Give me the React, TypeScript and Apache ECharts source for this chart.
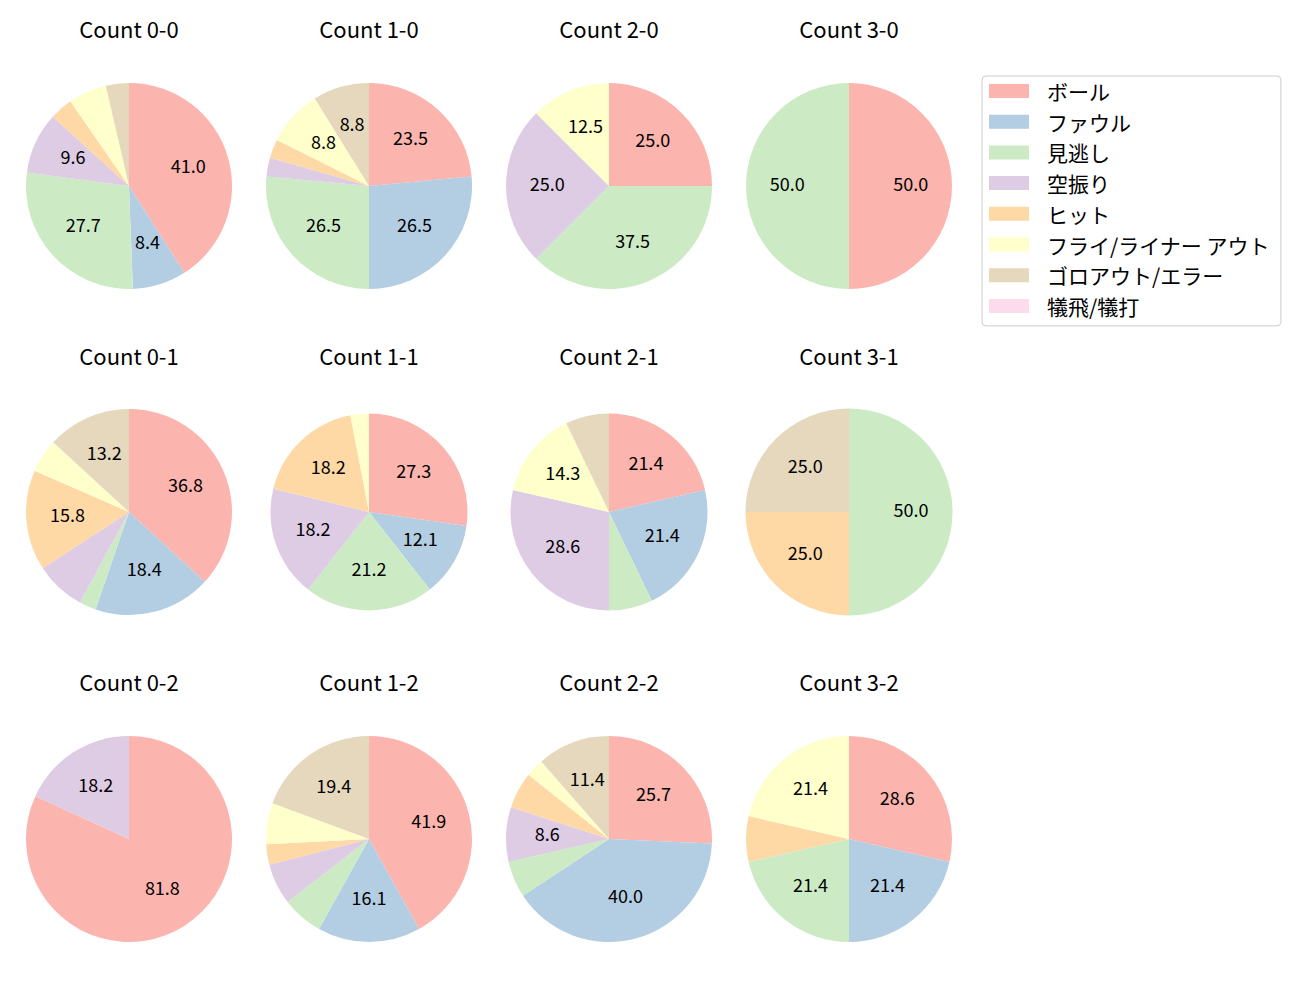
import React, { useEffect, useRef } from "react";
import * as echarts from "echarts";

const categories = [
  "ボール",
  "ファウル",
  "見逃し",
  "空振り",
  "ヒット",
  "フライ/ライナー アウト",
  "ゴロアウト/エラー",
  "犠飛/犠打",
];

const colors = ["#fbb4ae", "#b3cde3", "#ccebc5", "#decbe4", "#fed9a6", "#ffffcc", "#e5d8bd", "#fddaec"];

const titles = [
  "Count 0-0", "Count 1-0", "Count 2-0", "Count 3-0",
  "Count 0-1", "Count 1-1", "Count 2-1", "Count 3-1",
  "Count 0-2", "Count 1-2", "Count 2-2", "Count 3-2",
];

// counts per category (same order as categories)
const count00 = [34, 7, 23, 8, 3, 5, 3, 0];
const count10 = [8, 9, 9, 1, 1, 3, 3, 0];
const count20 = [2, 0, 3, 2, 0, 1, 0, 0];
const count30 = [1, 0, 1, 0, 0, 0, 0, 0];
const count01 = [14, 7, 1, 3, 6, 2, 5, 0];
const count11 = [9, 4, 7, 6, 6, 1, 0, 0];
const count21 = [3, 3, 1, 4, 0, 2, 1, 0];
const count31 = [0, 0, 2, 0, 1, 0, 1, 0];
const count02 = [9, 0, 0, 2, 0, 0, 0, 0];
const count12 = [13, 5, 2, 2, 1, 2, 6, 0];
const count22 = [9, 14, 2, 3, 2, 1, 4, 0];
const count32 = [4, 3, 3, 0, 1, 3, 0, 0];

const allCounts = [
  count00, count10, count20, count30,
  count01, count11, count21, count31,
  count02, count12, count22, count32,
];

const colX = [129, 369, 609, 849];
const rowY = [186, 512, 839];
const radii = [103, 103, 103, 103, 103, 98.5, 98.5, 103.5, 103, 103, 103, 103];
const titleY = [29, 356, 682];

const FONT = "Noto Sans CJK JP";
const LABEL_MIN = 8;

export default function App() {
  const ref = useRef<HTMLDivElement>(null);
  useEffect(() => {
    if (!ref.current) return;
    const chart = echarts.init(ref.current, undefined, { renderer: "svg" });
    const series: any[] = [];
    const graphics: any[] = [];
    allCounts.forEach((counts, i) => {
      const c = i % 4;
      const r = Math.floor(i / 4);
      const cx = colX[c] - 8;
      const cy = rowY[r] - 8;
      const rad = radii[i];
      const total = counts.reduce((a, b) => a + b, 0);
      const data = categories.map((name, k) => ({
        name,
        value: counts[k],
        itemStyle: { color: colors[k] },
      }));
      series.push({
        type: "pie",
        center: [cx, cy],
        radius: [0, rad],
        startAngle: 90,
        clockwise: true,
        label: { show: false },
        labelLine: { show: false },
        emphasis: { disabled: true },
        silent: true,
        data,
      });
      series.push({
        type: "pie",
        center: [cx, cy - 3.5],
        radius: [0, rad * 1.14],
        startAngle: 90,
        clockwise: true,
        silent: true,
        emphasis: { disabled: true },
        itemStyle: { color: "rgba(0,0,0,0)" },
        labelLine: { show: false },
        label: {
          show: true,
          position: "inside",
          color: "#000",
          fontFamily: FONT,
          fontSize: 18,
          formatter: (p: any) => {
            const pct = (p.value / total) * 100;
            return pct >= LABEL_MIN ? pct.toFixed(1) : "";
          },
        },
        data: categories.map((name, k) => ({ name: name + " ", value: counts[k] })),
      });
      graphics.push({
        type: "text",
        x: cx,
        y: titleY[r] - 8 - 1.5,
        silent: true,
        style: {
          text: titles[i],
          fill: "#000",
          fontFamily: FONT,
          fontSize: 22,
          textAlign: "center",
          textVerticalAlign: "middle",
        },
      });
    });
    chart.setOption({
      animation: false,
      backgroundColor: "#fff",
      graphic: graphics,
      legend: {
        orient: "vertical",
        left: 982 - 8,
        top: 76 - 8,
        data: categories.map((name, k) => ({ name, itemStyle: { color: colors[k] } })),
        itemWidth: 40,
        itemHeight: 14,
        itemGap: 9.7,
        padding: [4.5, 11, 9.5, 7],
        borderColor: "#cccccc",
        borderWidth: 1,
        borderRadius: 4,
        backgroundColor: "#fff",
        selectedMode: false,
        icon: "rect",
        textStyle: {
          fontFamily: FONT,
          fontSize: 21,
          lineHeight: 21,
          color: "#000",
          padding: [0, 0, 0, 13],
        },
      },
      series,
    });
    return () => chart.dispose();
  }, []);
  return <div ref={ref} style={{ width: 1284, height: 984 }} />;
}
